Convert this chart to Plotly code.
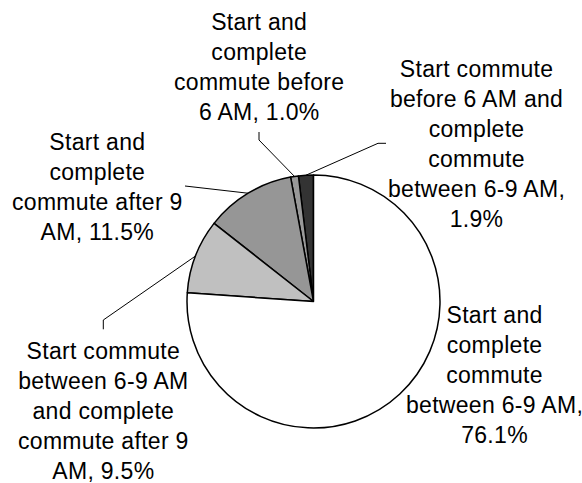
import math
import plotly.graph_objects as go

# Commute timing shares, listed counterclockwise from 12 o'clock
categories = [
    "Start commute<br>before 6 AM and<br>complete<br>commute<br>between 6-9 AM",
    "Start and<br>complete<br>commute before<br>6 AM",
    "Start and<br>complete<br>commute after 9<br>AM",
    "Start commute<br>between 6-9 AM<br>and complete<br>commute after 9<br>AM",
    "Start and<br>complete<br>commute<br>between 6-9 AM",
]
shares = [1.9, 1.0, 11.5, 9.5, 76.1]
value_on_new_line = [True, False, False, False, True]
slice_colors = ["#333333", "#999999", "#969696", "#C0C0C0", "#FFFFFF"]

W, H = 582, 483
cx, cy, r = 313.5, 301.5, 126.5  # pie centre and radius in pixels

# label block centres and leader-line bend points (pixels, y down)
label_pos = [(476, 144), (259, 67), (97, 187), (103, 411), (494, 375)]
leader_bends = [
    [(378, 143.3), (386, 143.3)],
    [(259, 140), (259, 132)],
    [(185, 186)],
    [(103.3, 320), (103.3, 329.3)],
    None,
]

total = sum(shares)

fig = go.Figure()

# plotly places the first counterclockwise slice so that it *ends* at the
# rotation angle; shift by that slice so it starts at 12 o'clock instead
fig.add_trace(go.Pie(
    values=shares,
    labels=[c.replace("<br>", " ") for c in categories],
    sort=False,
    direction="counterclockwise",
    rotation=-shares[0] / total * 360,
    marker=dict(colors=slice_colors, line=dict(color="black", width=1.5)),
    textinfo="none",
    hoverinfo="label+percent",
    showlegend=False,
    domain=dict(x=[(cx - r) / W, (cx + r) / W],
                y=[(H - cy - r) / H, (H - cy + r) / H]),
))

# leader lines from each slice's mid-angle on the rim to its label
cum = 0.0
for v, bends in zip(shares, leader_bends):
    mid = (cum + v / 2) / total * 2 * math.pi
    cum += v
    if not bends:
        continue
    sx = cx - r * math.sin(mid)
    sy = cy - r * math.cos(mid)
    xs = [sx] + [b[0] for b in bends]
    ys = [sy] + [b[1] for b in bends]
    fig.add_trace(go.Scatter(x=xs, y=ys, mode="lines",
                             line=dict(color="black", width=1),
                             hoverinfo="skip", showlegend=False))

for cat, v, nl, (lx, ly) in zip(categories, shares, value_on_new_line, label_pos):
    sep = ",<br>" if nl else ", "
    lines = f"{cat}{sep}{v:.1f}%".split("<br>")
    text = "<br>".join(f'<span style="letter-spacing:0.3px">{ln}</span>' for ln in lines)
    fig.add_annotation(x=lx, y=ly, xref="x", yref="y",
                       text=text, showarrow=False,
                       xanchor="center", yanchor="middle", align="center",
                       font=dict(family="Arial, Liberation Sans, sans-serif",
                                 size=23, color="black"))

fig.update_layout(
    width=W, height=H,
    margin=dict(l=0, r=0, t=0, b=0),
    paper_bgcolor="white", plot_bgcolor="rgba(0,0,0,0)",
    xaxis=dict(range=[0, W], visible=False, fixedrange=True),
    yaxis=dict(range=[H, 0], visible=False, fixedrange=True),
)

fig.write_html("out.html")
